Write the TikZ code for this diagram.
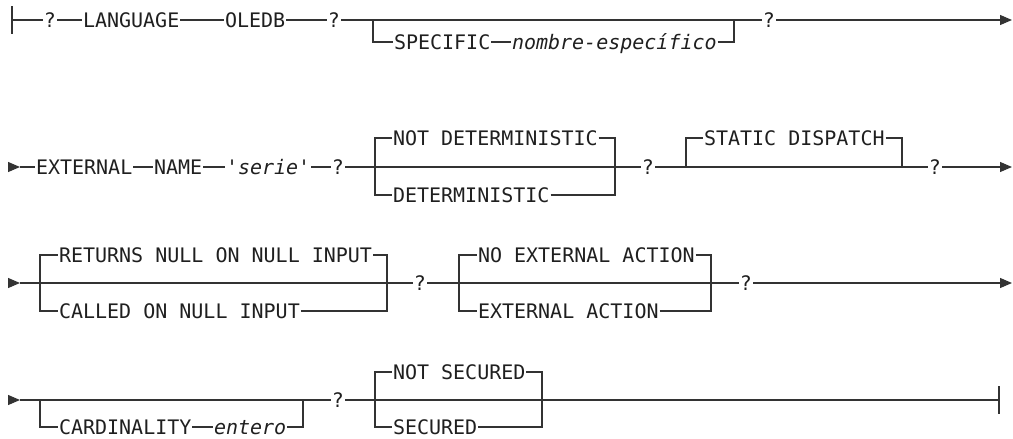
\documentclass[tikz,border=0pt]{standalone}
\usepackage{fontspec}
\newfontfamily\dmono[Ligatures=TeXOff]{DejaVu Sans Mono}
\usetikzlibrary{arrows.meta}
\begin{document}
\begin{tikzpicture}[x=1pt,y=-1pt,
  every node/.style={font=\dmono\fontsize{20}{20}\selectfont, text=black!88,
    inner xsep=0.8pt, inner ysep=0pt, text height=14.6pt, text depth=0pt},
  kw/.style={anchor=west},
  var/.style={anchor=west, font=\dmono\itshape\fontsize{20}{20}\selectfont},
  qm/.style={anchor=center},
  ln/.style={draw=black!80, line width=1.1pt},
  arr/.style={ln, -{Triangle[length=12pt,width=10pt]}}]
\useasboundingbox (0,0) rectangle (1013,439);

% ---------- row 1 ----------
\coordinate (b1) at (12,20);
\node[qm] (q11) at (50,20) {?};
\node[kw] (lang) at (82,20) {LANGUAGE};
\node[kw] (ole) at (224,20) {OLEDB};
\node[qm] (q12) at (334,20) {?};
\coordinate (j1l) at (373,20);
\coordinate (j1r) at (734,20);
\node[kw] (spec) at (393,42) {SPECIFIC};
\node[var] (nom) at (511,42) {nombre-específico};
\node[qm] (q13) at (769,20) {?};
\coordinate (e1) at (1012,20);
\draw[ln] (b1) ++(0,-14) -- ++(0,28);
\draw[ln] (b1) -- (q11) -- (lang) -- (ole) -- (q12) -- (q13);
\draw[arr] (q13) -- (e1);
\draw[ln] (j1l) |- (spec);
\draw[ln] (spec) -- (nom);
\draw[ln] (nom) -| (j1r);

% ---------- row 2 ----------
\coordinate (s2) at (8,167);
\coordinate (t2) at (20,167);
\node[kw] (ext) at (35,167) {EXTERNAL};
\node[kw] (name) at (153,167) {NAME};
\node[var] (serie) at (225,167) {'serie'};
\node[qm] (q21) at (338,167) {?};
\coordinate (j2l) at (375,167);
\coordinate (j2r) at (615,167);
\node[kw] (notdet) at (392,138) {NOT DETERMINISTIC};
\node[kw] (det) at (392,195) {DETERMINISTIC};
\node[qm] (q22) at (648,167) {?};
\coordinate (j3l) at (686,167);
\coordinate (j3r) at (902,167);
\node[kw] (stat) at (703,138) {STATIC DISPATCH};
\node[qm] (q23) at (935,167) {?};
\coordinate (e2) at (1012,167);
\draw[arr] (s2) -- (t2);
\draw[ln] (t2) -- (ext) -- (name) -- (serie) -- (q21) -- (q22) -- (q23);
\draw[arr] (q23) -- (e2);
\draw[ln] (j2l) |- (notdet);
\draw[ln] (notdet) -| (j2r);
\draw[ln] (j2l) |- (det);
\draw[ln] (det) -| (j2r);
\draw[ln] (j3l) |- (stat);
\draw[ln] (stat) -| (j3r);

% ---------- row 3 ----------
\coordinate (s3) at (8,283);
\coordinate (t3) at (20,283);
\coordinate (j4l) at (40,283);
\coordinate (j4r) at (387,283);
\node[kw] (ret) at (58,255) {RETURNS NULL ON NULL INPUT};
\node[kw] (called) at (58,311) {CALLED ON NULL INPUT};
\node[qm] (q31) at (420,283) {?};
\coordinate (j5l) at (459,283);
\coordinate (j5r) at (711,283);
\node[kw] (noext) at (477,255) {NO EXTERNAL ACTION};
\node[kw] (extact) at (477,311) {EXTERNAL ACTION};
\node[qm] (q32) at (746,283) {?};
\coordinate (e3) at (1012,283);
\draw[arr] (s3) -- (t3);
\draw[ln] (t3) -- (q31) -- (q32);
\draw[arr] (q32) -- (e3);
\draw[ln] (j4l) |- (ret);
\draw[ln] (ret) -| (j4r);
\draw[ln] (j4l) |- (called);
\draw[ln] (called) -| (j4r);
\draw[ln] (j5l) |- (noext);
\draw[ln] (noext) -| (j5r);
\draw[ln] (j5l) |- (extact);
\draw[ln] (extact) -| (j5r);

% ---------- row 4 ----------
\coordinate (s4) at (8,400);
\coordinate (t4) at (20,400);
\coordinate (j6l) at (40,400);
\coordinate (j6r) at (303,400);
\node[kw] (card) at (58,427) {CARDINALITY};
\node[var] (ent) at (213,427) {entero};
\node[qm] (q41) at (338,400) {?};
\coordinate (j7l) at (375,400);
\coordinate (j7r) at (542,400);
\node[kw] (notsec) at (392,372) {NOT SECURED};
\node[kw] (sec) at (392,427) {SECURED};
\coordinate (thk) at (571,400);
\coordinate (endc) at (999,400);
\draw[arr] (s4) -- (t4);
\draw[ln] (t4) -- (q41) -- (endc);
\draw[ln] (endc) ++(0,-14) -- ++(0,28);
\draw[ln] (j6l) |- (card);
\draw[ln] (card) -- (ent);
\draw[ln] (ent) -| (j6r);
\draw[ln] (j7l) |- (notsec);
\draw[ln] (notsec) -| (j7r);
\draw[ln] (j7l) |- (sec);
\draw[ln] (sec) -| (j7r);
\draw[ln, line width=2pt] (j7r) -- (thk);
\end{tikzpicture}
\end{document}
